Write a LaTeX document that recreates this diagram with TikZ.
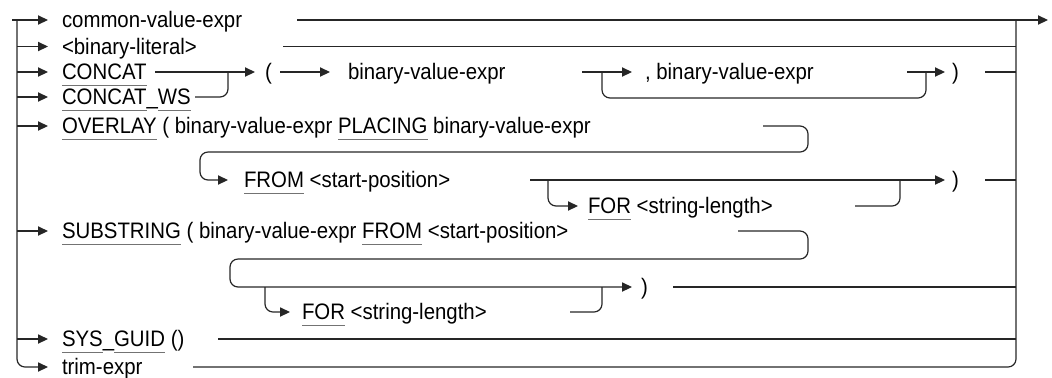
\documentclass[tikz,border=0pt]{standalone}
\usepackage{fontspec}
\setmainfont[FakeStretch=0.91]{Liberation Sans}
\usetikzlibrary{positioning,arrows.meta,calc}

\newsavebox\kwbox
\newcommand\kw[1]{\sbox\kwbox{#1}\rlap{\color{black!55}\rule[-3pt]{\wd\kwbox}{0.55pt}}\usebox\kwbox}

\begin{document}
\begin{tikzpicture}[
    x=0.5pt, y=-0.5pt,
    txt/.style={anchor=west, inner sep=0pt, outer sep=0pt, text height=8.8pt, text depth=1pt, font=\fontsize{11.2}{13}\selectfont},
    conn/.style={line width=0.6pt, black!85},
    arrow/.style={conn, -{Triangle[length=5pt, width=4.6pt]}},
    loop/.style={conn, rounded corners=4pt},
]
    \useasboundingbox (0,0) rectangle (1052,377);

    % Rails
    \coordinate (start) at (12,20);
    \coordinate (lrail) at (17,20);
    \coordinate (rrail) at (1016,20);
    \coordinate (out) at (1048,20);

    % Alternatives
    \node[txt] (cve) at (62,20) {common-value-expr};
    \node[txt] (blit) at (62,46.5) {<binary-literal>};
    \node[txt] (concat) at (62,72) {\kw{CONCAT}};
    \node[txt] (concatws) at (62,97) {\kw{CONCAT}\_\kw{WS}};
    \node[txt] (lpar) at (265,72) {(};
    \node[txt] (bve) at (348,72) {binary-value-expr};
    \node[txt] (cbve) at (645,72) {, binary-value-expr};
    \node[txt] (rpar1) at (952,72) {)};
    \node[txt] (overlay) at (62,126) {\kw{OVERLAY} ( binary-value-expr \kw{PLACING} binary-value-expr};
    \node[txt] (from1) at (244,180) {\kw{FROM} <start-position>};
    \node[txt] (for1) at (588,206) {\kw{FOR} <string-length>};
    \node[txt] (rpar2) at (952,180) {)};
    \node[txt] (substr) at (62,231) {\kw{SUBSTRING} ( binary-value-expr \kw{FROM} <start-position>};
    \node[txt] (rpar3) at (641,287) {)};
    \node[txt] (for2) at (302,312) {\kw{FOR} <string-length>};
    \node[txt] (sysguid) at (62,339) {\kw{SYS}\_\kw{GUID} ()};
    \node[txt] (trim) at (62,367) {trim-expr};

    % Left rail
    \draw[arrow] (start) -- ([xshift=-7pt]cve.west);
    \draw[arrow, rounded corners=4pt] (lrail) |- ([xshift=-7pt]trim.west);
    \foreach \n in {blit, concat, concatws, overlay, substr, sysguid}
        \draw[arrow] (lrail |- \n.west) -- ([xshift=-7pt]\n.west);

    % Right rail
    \coordinate (e1) at (297,20);
    \coordinate (e2) at (283,46.5);
    \coordinate (e12) at (218,339);
    \coordinate (e13) at (193,367);
    \draw[arrow] (e1) -- (out);
    \draw[conn] (e2) -- (rrail |- e2);
    \draw[conn] (e12) -- (rrail |- e12);
    \draw[loop] (e13) -| (rrail);

    % CONCAT / CONCAT_WS
    \coordinate (c1) at (155,72);
    \coordinate (c2) at (195,97);
    \coordinate (cj) at (228,72);
    \coordinate (c3) at (280,72);
    \coordinate (c4) at (582,72);
    \coordinate (c5) at (907,72);
    \coordinate (c6) at (985,72);
    \draw[arrow] (c1) -- ([xshift=-5pt]lpar.west);
    \draw[loop] (c2) -| (cj);
    \draw[arrow] (c3) -- ([xshift=-9pt]bve.west);
    \draw[arrow] (c4) -- ([xshift=-6.5pt]cbve.west);
    \draw[loop] (602,72) -- (602,98) -- (926,98) -- (926,72);
    \draw[arrow] (c5) -- ([xshift=-3.5pt]rpar1.west);
    \draw[conn] (c6) -- (rrail |- c6);

    % OVERLAY
    \coordinate (o1) at (763,126);
    \coordinate (o2) at (530,180);
    \coordinate (o3) at (548,180);
    \coordinate (o4) at (855,206);
    \coordinate (o5) at (900,180);
    \coordinate (o6) at (985,180);
    \draw[arrow, rounded corners=4pt] (o1) -- (808,126) -- (808,152) -- (200,152) -- (200,180) -- ([xshift=-8pt]from1.west);
    \draw[arrow] (o2) -- ([xshift=-3.5pt]rpar2.west);
    \draw[arrow, rounded corners=4pt] (o3) |- ([xshift=-5pt]for1.west);
    \draw[loop] (o4) -| (o5);
    \draw[conn] (o6) -- (rrail |- o6);

    % SUBSTRING
    \coordinate (s1) at (738,231);
    \coordinate (s2) at (265,287);
    \coordinate (s3) at (570,312);
    \coordinate (s4) at (602,287);
    \coordinate (s5) at (673,287);
    \draw[arrow, rounded corners=4pt] (s1) -- (808,231) -- (808,259) -- (230,259) -- (230,287) -- ([xshift=-4.5pt]rpar3.west);
    \draw[arrow, rounded corners=4pt] (s2) |- ([xshift=-6pt]for2.west);
    \draw[loop] (s3) -| (s4);
    \draw[conn] (s5) -- (rrail |- s5);
\end{tikzpicture}
\end{document}
